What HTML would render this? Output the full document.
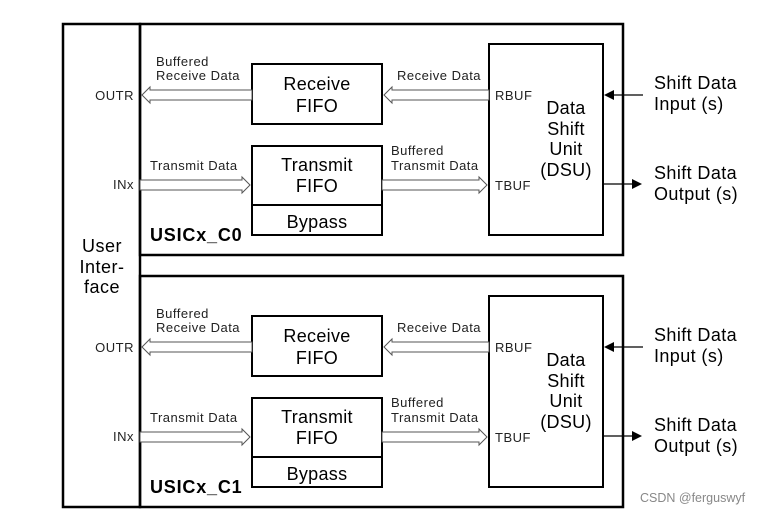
<!DOCTYPE html>
<html><head><meta charset="utf-8"><style>
html,body{margin:0;padding:0;background:#fff;}
svg{display:block;font-family:"Liberation Sans",Arial,sans-serif;}
.s{font-size:13px;letter-spacing:0.5px;fill:#222}
.b{font-size:18px;letter-spacing:0.3px}
</style></head><body>
<svg width="775" height="515" viewBox="0 0 775 515" xmlns="http://www.w3.org/2000/svg">
<defs>
<g id="blk">
  <rect x="140" y="24" width="483" height="231" fill="none" stroke="#000" stroke-width="2.5"/>
  <rect x="252" y="64" width="130" height="60" fill="#fff" stroke="#000" stroke-width="2"/>
  <text x="317" y="90" class="b" text-anchor="middle">Receive</text>
  <text x="317" y="112" class="b" text-anchor="middle">FIFO</text>
  <rect x="252" y="146" width="130" height="59" fill="#fff" stroke="#000" stroke-width="2"/>
  <rect x="252" y="205" width="130" height="30" fill="#fff" stroke="#000" stroke-width="2"/>
  <text x="317" y="171" class="b" text-anchor="middle">Transmit</text>
  <text x="317" y="192" class="b" text-anchor="middle">FIFO</text>
  <text x="317" y="228" class="b" text-anchor="middle">Bypass</text>
  <rect x="489" y="44" width="114" height="191" fill="#fff" stroke="#000" stroke-width="2"/>
  <text x="566" y="114" class="b" text-anchor="middle">Data</text>
  <text x="566" y="135" class="b" text-anchor="middle">Shift</text>
  <text x="566" y="155" class="b" text-anchor="middle">Unit</text>
  <text x="566" y="176" class="b" text-anchor="middle">(DSU)</text>
  <text x="495" y="100" class="s">RBUF</text>
  <text x="495" y="190" class="s">TBUF</text>
  <polygon points="142,95 150,87 150,90 252,90 252,100 150,100 150,103" fill="#fff" stroke="#555" stroke-width="1"/>
  <polygon points="384,95 392,87 392,90 489,90 489,100 392,100 392,103" fill="#fff" stroke="#555" stroke-width="1"/>
  <polygon points="250,185 242,177 242,180 140,180 140,190 242,190 242,193" fill="#fff" stroke="#555" stroke-width="1"/>
  <polygon points="487,185 479,177 479,180 382,180 382,190 479,190 479,193" fill="#fff" stroke="#555" stroke-width="1"/>
  <text x="156" y="66" class="s">Buffered</text>
  <text x="156" y="80" class="s">Receive Data</text>
  <text x="397" y="80" class="s">Receive Data</text>
  <text x="150" y="170" class="s">Transmit Data</text>
  <text x="391" y="155" class="s">Buffered</text>
  <text x="391" y="170" class="s">Transmit Data</text>
  <text x="134" y="100" class="s" text-anchor="end">OUTR</text>
  <text x="134" y="189" class="s" text-anchor="end">INx</text>
  <line x1="643" y1="95" x2="612" y2="95" stroke="#000" stroke-width="1.2"/>
  <polygon points="604,95 614,90 614,100" fill="#000"/>
  <line x1="603" y1="184" x2="632" y2="184" stroke="#000" stroke-width="1.2"/>
  <polygon points="642,184 632,179 632,189" fill="#000"/>
  <text x="654" y="89" font-size="18" letter-spacing="0.4">Shift Data</text>
  <text x="654" y="110" font-size="18" letter-spacing="0.4">Input (s)</text>
  <text x="654" y="179" font-size="18" letter-spacing="0.4">Shift Data</text>
  <text x="654" y="200" font-size="18" letter-spacing="0.4">Output (s)</text>
</g>
</defs>
<rect x="63" y="24" width="77" height="483" fill="none" stroke="#000" stroke-width="2.5"/>
<use href="#blk"/>
<use href="#blk" transform="translate(0,252)"/>
<text x="150" y="241" font-size="18" font-weight="bold" letter-spacing="0.8">USICx_C0</text>
<text x="150" y="493" font-size="18" font-weight="bold" letter-spacing="0.8">USICx_C1</text>
<text x="102" y="252" font-size="18" letter-spacing="0.5" text-anchor="middle">User</text>
<text x="102" y="273" font-size="18" letter-spacing="0.5" text-anchor="middle">Inter-</text>
<text x="102" y="293" font-size="18" letter-spacing="0.5" text-anchor="middle">face</text>
<text x="640" y="502" font-size="12.5" fill="#888">CSDN @ferguswyf</text>
</svg>
</body></html>
